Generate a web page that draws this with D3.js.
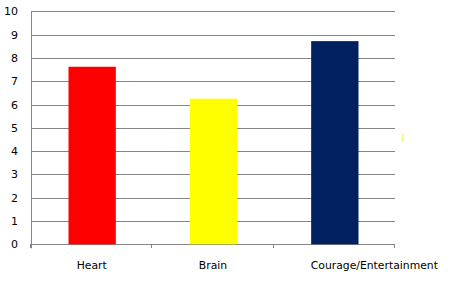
<!DOCTYPE html>
<html>
<head>
<meta charset="utf-8">
<script src="https://cdn.jsdelivr.net/npm/d3@7/dist/d3.min.js"></script>
<style>
  body { margin: 0; background: #fff; }
  svg { display: block; font-family: "DejaVu Sans", Verdana, sans-serif; }
</style>
</head>
<body>
<svg id="chart" width="463" height="291"></svg>
<script>
var categories = ['Heart', 'Brain', 'Courage/Entertainment'];
var values = [7.62, 6.25, 8.72];
var barColors = ['#ff0000', '#ffff00', '#002060'];
var yTicks = [0, 1, 2, 3, 4, 5, 6, 7, 8, 9, 10];

var svg = d3.select('#chart');
var plot = { left: 31, right: 395, top: 11.3, bottom: 244.3 };

var x = d3.scaleBand().domain(categories).range([plot.left, plot.right]).padding(0);
var y = d3.scaleLinear().domain([0, 10]).range([plot.bottom, plot.top]);

// gridlines
svg.append('g').selectAll('line')
    .data(yTicks)
    .enter().append('line')
    .attr('x1', plot.left).attr('x2', plot.right)
    .attr('y1', function (d) { return Math.round(y(d)) + 0.5; })
    .attr('y2', function (d) { return Math.round(y(d)) + 0.5; })
    .attr('stroke', '#868686').attr('stroke-width', 1);

// bars
var barFrac = 0.39;
svg.append('g').selectAll('rect')
    .data(categories)
    .enter().append('rect')
    .attr('x', function (d) { return x(d) + x.bandwidth() * (1 - barFrac) / 2 + 0.5; })
    .attr('width', x.bandwidth() * barFrac)
    .attr('y', function (d, i) { return y(values[i]); })
    .attr('height', function (d, i) { return y(0) - y(values[i]); })
    .attr('fill', function (d, i) { return barColors[i]; });

// y axis line
svg.append('line')
    .attr('x1', plot.left + 0.5).attr('x2', plot.left + 0.5)
    .attr('y1', plot.top).attr('y2', plot.bottom + 4)
    .attr('stroke', '#868686');

// x category ticks
var bounds = categories.map(function (c) { return x(c); }).concat([plot.right]);
svg.append('g').selectAll('line')
    .data(bounds)
    .enter().append('line')
    .attr('x1', function (d) { return Math.round(d) - 0.5; })
    .attr('x2', function (d) { return Math.round(d) - 0.5; })
    .attr('y1', Math.round(plot.bottom)).attr('y2', Math.round(plot.bottom) + 4)
    .attr('stroke', '#868686');

// y labels
svg.append('g').selectAll('text')
    .data(yTicks)
    .enter().append('text')
    .attr('x', 18)
    .attr('y', function (d) { return y(d) + 4; })
    .attr('text-anchor', 'end')
    .attr('font-size', 11)
    .attr('fill', '#000')
    .text(function (d) { return d; });

// x labels (the long last label is pushed right as in the original)
svg.append('g').selectAll('text')
    .data(categories)
    .enter().append('text')
    .attr('x', function (d, i) {
        return x(d) + x.bandwidth() / 2 + (i === categories.length - 1 ? 40 : 0);
    })
    .attr('y', 269)
    .attr('text-anchor', 'middle')
    .attr('font-size', 10.8)
    .attr('fill', '#000')
    .text(function (d) { return d; });

// leftover legend sliver
svg.append('rect')
    .attr('x', 402).attr('y', 134).attr('width', 1.5).attr('height', 8)
    .attr('fill', '#f5f07a');
</script>
</body>
</html>
